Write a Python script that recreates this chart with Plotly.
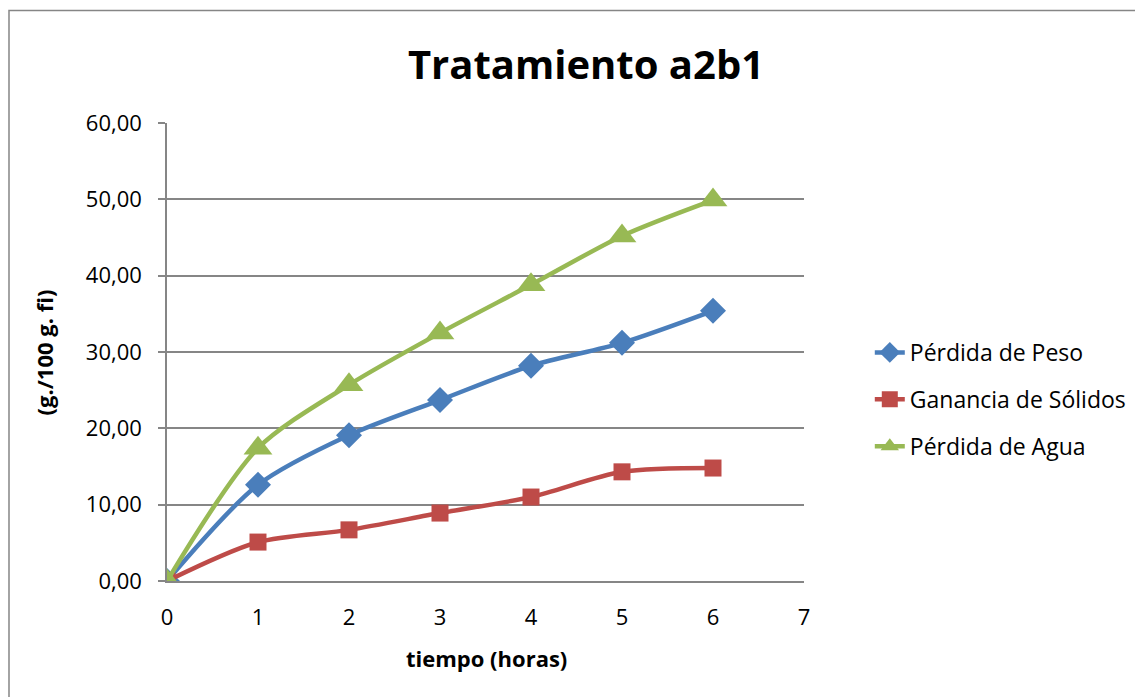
import plotly.graph_objects as go

tiempo = [0, 1, 2, 3, 4, 5, 6]
perdida_peso = [0.0, 12.6, 19.1, 23.7, 28.2, 31.2, 35.4]
ganancia_solidos = [0.0, 5.1, 6.7, 8.9, 11.0, 14.3, 14.8]
perdida_agua = [0.0, 17.4, 25.7, 32.5, 38.8, 45.2, 49.9]

OFF = 8  # browser body margin
W, H = 1143 - OFF, 697 - OFF
L, R, T, B = 167 - OFF, 806 - OFF, 123 - OFF, 581 - OFF

def px_x(p):
    return (p - OFF - L) / (R - L)

def px_y(p):
    return (B - (p - OFF)) / (B - T)

FONT = "Open Sans, Lato, sans-serif"
GRAY = "#868686"

fig = go.Figure()
series = [
    ("Pérdida de Peso", perdida_peso, "#4A7EBB", "diamond", 20),
    ("Ganancia de Sólidos", ganancia_solidos, "#BE4B48", "square", 17),
    ("Pérdida de Agua", perdida_agua, "#98B954", "triangle-up", 25),
]
for name, vals, col, sym, sz in series:
    fig.add_trace(go.Scatter(
        x=tiempo, y=vals, name=name, mode="lines+markers", legendgroup=name,
        line=dict(color=col, width=4.5, shape="spline", smoothing=0.8),
        marker=dict(symbol=sym, size=sz, color=col),
    ))

fig.update_layout(
    width=W, height=H,
    margin=dict(l=L, r=W - R, t=T, b=H - B),
    paper_bgcolor="white", plot_bgcolor="white",
    separators=",.",
    font=dict(family=FONT, size=22, color="black"),
    title=dict(text="<b>Tratamiento a2b1</b>", x=(586 - OFF) / W, xanchor="center",
               y=1 - (65 - OFF) / H, yanchor="middle", font=dict(size=40)),
    legend=dict(x=px_x(864 + OFF), y=px_y(331), xanchor="left", yanchor="top",
                font=dict(size=23), tracegroupgap=14,
                bgcolor="rgba(0,0,0,0)"),
    showlegend=True,
    xaxis=dict(range=[0, 7], dtick=1, tick0=0, showgrid=False, zeroline=False,
               showline=True, linecolor=GRAY, linewidth=1.5,
               ticks="", ticklabelstandoff=16),
    yaxis=dict(range=[0, 60], dtick=10, tick0=0, tickformat=".2f",
               showgrid=True, gridcolor=GRAY, gridwidth=1.5, zeroline=False,
               showline=True, linecolor=GRAY, linewidth=1.5,
               ticks="outside", ticklen=7, tickcolor=GRAY, tickwidth=1.5,
               ticklabelstandoff=12),
    annotations=[
        dict(text="<b>tiempo (horas)</b>", xref="paper", yref="paper",
             x=px_x(488), y=px_y(658), xanchor="center", yanchor="middle",
             showarrow=False, font=dict(size=22)),
        dict(text="<b>(g./100 g. fi)</b>", xref="paper", yref="paper",
             x=px_x(44), y=px_y(352), xanchor="center", yanchor="middle",
             textangle=-90, showarrow=False, font=dict(size=22)),
    ],
    shapes=[dict(type="rect", xref="paper", yref="paper",
                 x0=px_x(8.5), x1=px_x(1160), y0=px_y(10.5), y1=px_y(720),
                 line=dict(color=GRAY, width=1.5), layer="below")],
)

fig.write_html("out.html")
